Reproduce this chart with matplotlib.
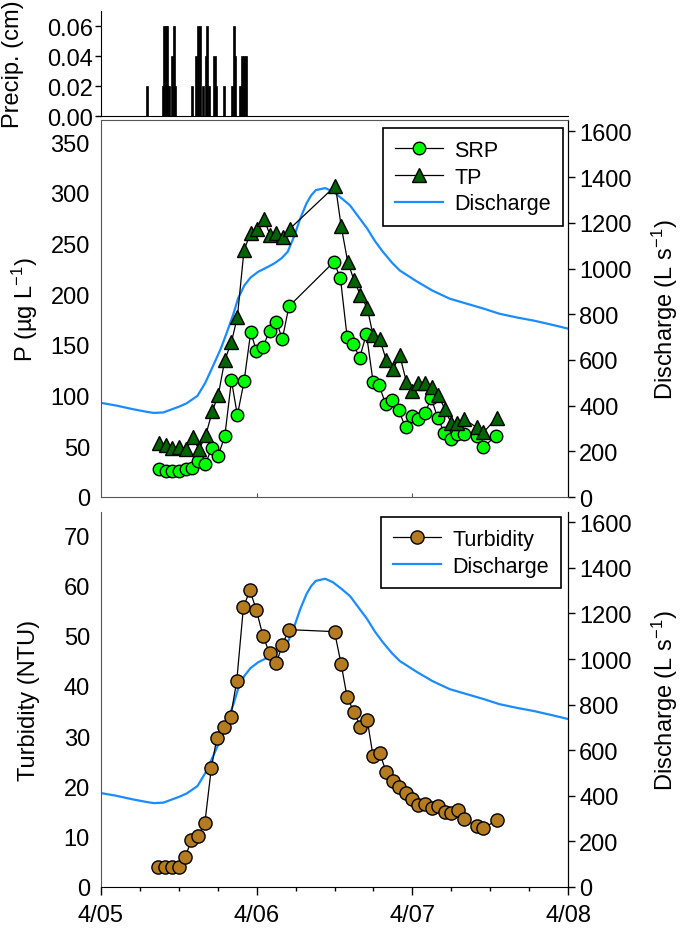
import matplotlib
matplotlib.use("Agg")
import matplotlib.pyplot as plt
import numpy as np

plt.rcParams['font.family'] = ['Liberation Sans', 'DejaVu Sans']
plt.rcParams['mathtext.default'] = 'regular'
plt.rcParams['font.size'] = 17

# ---------------- data (days since 4/05 00:00) ----------------
precip_hr = [7.1, 9.5, 9.75, 10.0, 10.25, 10.55, 10.9, 11.2, 11.45,
             14.05, 14.7, 15.0, 15.3, 15.75, 16.25, 16.4, 16.6, 17.5, 17.8,
             18.95, 20.2, 20.45, 20.7, 21.4, 21.7, 22.0, 22.3]
precip_cm = [0.02, 0.02, 0.06, 0.06, 0.06, 0.02, 0.04, 0.06, 0.02,
             0.02, 0.04, 0.06, 0.06, 0.02, 0.04, 0.06, 0.02, 0.04, 0.02,
             0.02, 0.02, 0.06, 0.04, 0.02, 0.04, 0.04, 0.04]

q_day = [0.0, 0.1, 0.2, 0.3, 0.34, 0.4, 0.5, 0.55, 0.62, 0.67, 0.72, 0.77,
         0.81, 0.85, 0.88, 0.92, 0.96, 1.01, 1.06, 1.11, 1.16, 1.20, 1.24,
         1.28, 1.32, 1.35, 1.38, 1.44, 1.49, 1.55, 1.60, 1.65, 1.71, 1.76,
         1.81, 1.87, 1.92, 2.03, 2.13, 2.24, 2.35, 2.46, 2.56, 2.67, 2.78,
         2.89, 3.0]
q_lps = [412, 400, 385, 372, 368, 370, 395, 410, 443, 500, 574, 650,
         723, 800, 868, 925, 960, 986, 1003, 1021, 1045, 1074, 1140,
         1219, 1285, 1320, 1343, 1352, 1337, 1305, 1276, 1230, 1175, 1120,
         1074, 1025, 991, 943, 903, 868, 846, 824, 802, 786, 772,
         755, 737]

srp_day = [0.374, 0.417, 0.455, 0.498, 0.545, 0.583, 0.624, 0.669, 0.712,
           0.752, 0.795, 0.838, 0.876, 0.919, 0.962, 0.998, 1.04, 1.083,
           1.126, 1.165, 1.207, 1.496, 1.538, 1.581, 1.62, 1.662, 1.705,
           1.748, 1.786, 1.829, 1.872, 1.912, 1.957, 2.0, 2.038, 2.079,
           2.122, 2.162, 2.205, 2.247, 2.286, 2.329, 2.414, 2.453, 2.538]
srp = [27.5, 25.3, 26, 26, 27.5, 28.5, 35.7, 32.5, 48,
       40.7, 59.7, 115, 80.7, 114, 163, 144, 148, 164,
       173, 156, 188, 232, 216, 158, 151, 137.5, 161,
       113.5, 110.5, 91.5, 95.5, 85.6, 68.6, 80, 76.8, 82.4,
       97.4, 78.4, 63.6, 57.7, 62, 62, 59.7, 49, 60.3]

tp_day = [0.374, 0.417, 0.455, 0.502, 0.549, 0.588, 0.63, 0.673, 0.716,
          0.754, 0.795, 0.838, 0.876, 0.919, 0.962, 1.004, 1.047, 1.085,
          1.126, 1.169, 1.212, 1.506, 1.543, 1.585, 1.624, 1.667, 1.71,
          1.748, 1.791, 1.833, 1.876, 1.919, 1.962, 2.0, 2.038, 2.081,
          2.124, 2.167, 2.209, 2.248, 2.29, 2.333, 2.414, 2.457, 2.543]
tp = [53, 51.5, 48, 49, 47, 59, 47, 61, 85,
      101, 135, 153, 177.5, 244, 260.5, 264, 274, 259,
      260.5, 257, 264.5, 307, 267, 232, 214.5, 199, 186.7,
      159.5, 155.5, 135, 126, 140, 113.5, 104.6, 112, 112,
      109, 100.7, 86.6, 73.5, 73.5, 76.8, 68.6, 63.7, 78.4]

turb_day = [0.368, 0.412, 0.453, 0.498, 0.541, 0.581, 0.624, 0.667, 0.709,
            0.744, 0.79, 0.833, 0.872, 0.915, 0.957, 0.998, 1.04, 1.083,
            1.126, 1.165, 1.207, 1.5, 1.543, 1.581, 1.624, 1.667, 1.71,
            1.748, 1.791, 1.833, 1.876, 1.917, 1.957, 2.0, 2.038, 2.081,
            2.124, 2.167, 2.209, 2.25, 2.293, 2.333, 2.414, 2.457, 2.543]
turb = [3.9, 4.0, 4.0, 3.9, 6.0, 9.3, 10.2, 12.7, 23.7,
        29.6, 31.9, 33.9, 41.0, 55.7, 59.0, 55.1, 50.0, 46.5,
        44.5, 48.2, 51.2, 50.8, 44.3, 37.8, 34.9, 31.9, 33.3,
        26.0, 26.6, 22.8, 21.1, 19.8, 18.7, 17.5, 16.3, 16.5,
        15.8, 16.1, 15.0, 14.8, 15.3, 13.5, 12.1, 11.7, 13.3]

date_ticks = [0, 1, 2, 3]
date_labels = ["4/05", "4/06", "4/07", "4/08"]

# ---------------- figure ----------------
fig = plt.figure(figsize=(6.85, 9.37), dpi=100)
W, H = 685, 937

def box(x0, y0, x1, y1):
    return [x0 / W, 1 - y1 / H, (x1 - x0) / W, (y1 - y0) / H]

ax_p = fig.add_axes(box(101, 12, 568, 117))
ax1 = fig.add_axes(box(101, 121, 568, 498))
ax2 = fig.add_axes(box(101, 513, 568, 888))

blue = "#1a8cff"
gray = "#555555"
leg_kw = dict(loc="upper right", borderaxespad=0, fontsize=15.5, handlelength=2.2,
              labelspacing=0.27, fancybox=False, framealpha=1, edgecolor="black",
              borderpad=0.55, handletextpad=0.55)

# precip
ax_p.bar(np.array(precip_hr) / 24.0, precip_cm, width=0.013, color="black",
         edgecolor="black", linewidth=0.5)
ax_p.set_xlim(0, 3)
ax_p.set_ylim(0, 0.07)
ax_p.set_yticks([0, 0.02, 0.04, 0.06])
ax_p.set_yticklabels(["0.00", "0.02", "0.04", "0.06"])
ax_p.set_xticks([])
for s in ["top", "right"]:
    ax_p.spines[s].set_visible(False)
ax_p.tick_params(axis="y", direction="out", length=4, width=1, pad=2)
ax_p.set_ylabel("Precip. (cm)")
ax_p.yaxis.set_label_coords(-0.165, 0.5)

# P panel
ax1.plot(srp_day, srp, color="black", linewidth=0.9, marker="o", markersize=9,
         markerfacecolor="#00ff00", markeredgecolor="black", markeredgewidth=1,
         label="SRP", zorder=3)
ax1.plot(tp_day, tp, color="black", linewidth=0.9, marker="^", markersize=10.5,
         markerfacecolor="#006400", markeredgecolor="black", markeredgewidth=1,
         label="TP", zorder=3)
ax1.set_xlim(0, 3)
ax1.set_ylim(0, 372)
ax1.set_yticks(range(0, 351, 50))
ax1.set_xticks([1, 2])
ax1.set_xticklabels([])
ax1.tick_params(axis="x", direction="in", length=3, color=gray)
ax1.tick_params(axis="y", length=0, pad=8)
for s in ["left", "top", "bottom"]:
    ax1.spines[s].set_color(gray)
ax1.set_ylabel("P (µg L$^{-1}$)")
ax1.yaxis.set_label_coords(-0.13, 0.5)

ax1r = ax1.twinx()
ax1r.plot(q_day, q_lps, color=blue, linewidth=1.6, label="Discharge", zorder=2)
ax1r.set_ylim(0, 1650)
ax1r.set_yticks(range(0, 1601, 200))
ax1r.tick_params(axis="y", direction="out", length=5, width=1, pad=3)
for s in ["left", "top", "bottom"]:
    ax1r.spines[s].set_visible(False)
ax1r.set_ylabel("Discharge (L s$^{-1}$)")
ax1r.yaxis.set_label_coords(1.175, 0.5)
ax1.set_zorder(ax1r.get_zorder() + 1)
ax1.patch.set_visible(False)

h1, l1 = ax1.get_legend_handles_labels()
h2, l2 = ax1r.get_legend_handles_labels()
leg = ax1.legend(h1 + h2, l1 + l2, bbox_to_anchor=(0.989, 0.979), **leg_kw)
leg.get_frame().set_linewidth(1.2)

# turbidity panel
ax2.plot(turb_day, turb, color="black", linewidth=0.9, marker="o", markersize=9.5,
         markerfacecolor="#b47b20", markeredgecolor="black", markeredgewidth=1,
         label="Turbidity", zorder=3)
ax2.set_xlim(0, 3)
ax2.set_ylim(0, 74.6)
ax2.set_yticks(range(0, 71, 10))
ax2.set_xticks(date_ticks)
ax2.set_xticklabels(date_labels)
ax2.set_xticks(np.arange(0, 3.01, 0.25), minor=True)
ax2.tick_params(axis="x", which="major", direction="out", length=6, width=1, pad=6)
ax2.tick_params(axis="x", which="minor", direction="out", length=3, width=1)
ax2.tick_params(axis="y", length=0, pad=8)
ax2.spines["top"].set_visible(False)
ax2.spines["left"].set_color(gray)
ax2.set_ylabel("Turbidity (NTU)")
ax2.yaxis.set_label_coords(-0.13, 0.5)

ax2r = ax2.twinx()
ax2r.plot(q_day, q_lps, color=blue, linewidth=1.6, label="Discharge", zorder=2)
ax2r.set_ylim(0, 1645)
ax2r.set_yticks(range(0, 1601, 200))
ax2r.tick_params(axis="y", direction="out", length=5, width=1, pad=3)
for s in ["left", "top", "bottom"]:
    ax2r.spines[s].set_visible(False)
ax2r.set_ylabel("Discharge (L s$^{-1}$)")
ax2r.yaxis.set_label_coords(1.175, 0.5)
ax2.set_zorder(ax2r.get_zorder() + 1)
ax2.patch.set_visible(False)

h1, l1 = ax2.get_legend_handles_labels()
h2, l2 = ax2r.get_legend_handles_labels()
leg2 = ax2.legend(h1 + h2, l1 + l2, bbox_to_anchor=(0.985, 0.987), **leg_kw)
leg2.get_frame().set_linewidth(1.2)

fig.savefig("out.png", dpi=100)
